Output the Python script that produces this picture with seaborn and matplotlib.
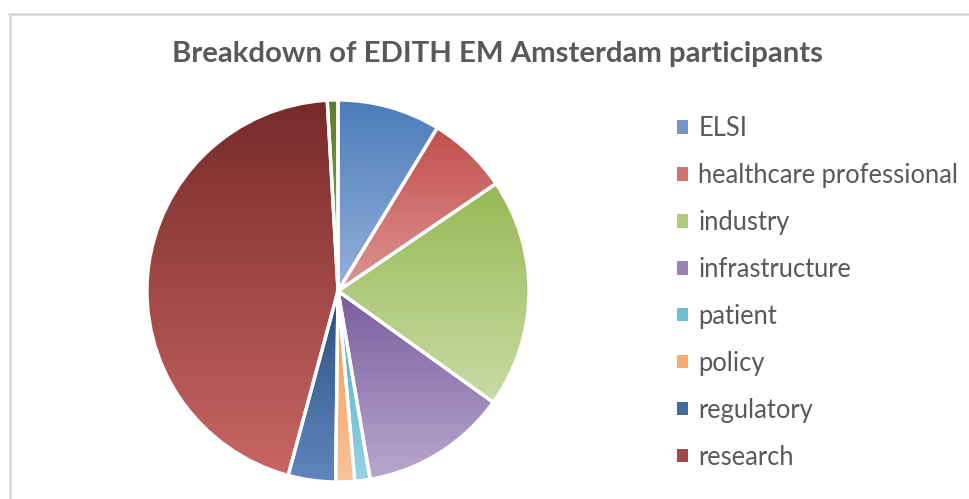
import numpy as np
import matplotlib
matplotlib.use("Agg")
import matplotlib.pyplot as plt
import seaborn as sns
from matplotlib.patches import Patch
from matplotlib.lines import Line2D
from matplotlib.colors import to_rgb, LinearSegmentedColormap

# ---- data ----
categories = ["ELSI", "healthcare professional", "industry", "infrastructure",
              "patient", "policy", "regulatory", "research", "other"]
shares = [8.7, 6.8, 19.4, 12.4, 1.3, 1.6, 4.0, 44.9, 0.9]
legend_labels = categories[:8]
title = "Breakdown of EDITH EM Amsterdam participants"

# ---- style ----
dark_cols = ["#4A7CBA", "#C24E4B", "#97B954", "#7A5C9E", "#44AAC4",
             "#F69444", "#2B4F7C", "#772A28", "#5E7A2A"]
light_cols = ["#97B1DA", "#DE9594", "#C8DBA4", "#B7A8CE", "#98D2E2",
              "#FAC39A", "#5F86BE", "#C86663", "#8FAF5A"]

sns.set_theme(style="white")
plt.rcParams["font.family"] = ["Lato", "DejaVu Sans"]

fig = plt.figure(figsize=(9.69, 4.99), dpi=100)
W, H = 969, 499
cx, cy, r = 338, 291, 191
ax = fig.add_axes([(cx - r) / W, (H - cy - r) / H, 2 * r / W, 2 * r / H])
ax.axis("off")

wedges, _ = ax.pie(shares, startangle=90, counterclock=False, radius=1,
                   colors=["none"] * len(shares),
                   wedgeprops=dict(edgecolor="white", linewidth=2.4))
ax.set_xlim(-1.0, 1.0)
ax.set_ylim(-1.0, 1.0)

for w, d, l in zip(wedges, dark_cols, light_cols):
    verts = w.get_path().vertices
    x0, x1 = verts[:, 0].min(), verts[:, 0].max()
    y0, y1 = verts[:, 1].min(), verts[:, 1].max()
    cmap = LinearSegmentedColormap.from_list("g", [l, d])
    grad = np.linspace(0, 1, 256).reshape(-1, 1)
    im = ax.imshow(grad, extent=[x0, x1, y0, y1], origin="lower", cmap=cmap,
                   aspect="auto", zorder=1, interpolation="bilinear")
    im.set_clip_path(w)
    im.set_clip_on(True)
    w.set_zorder(2)
    w.set_clip_on(False)

# ---- title ----
fig.text(497 / W, 1 - 54 / H, title, ha="center", va="center",
         fontsize=21.2, fontweight="bold", color="#595959")

# ---- legend ----
mid_cols = []
for d, l in zip(dark_cols, light_cols):
    a, b = np.array(to_rgb(d)), np.array(to_rgb(l))
    mid_cols.append(tuple((a + b) / 2))
handles = [Patch(facecolor=c, edgecolor="none") for c in mid_cols[:8]]
leg = fig.legend(handles, legend_labels, loc="upper left",
                 bbox_to_anchor=(677 / W, 1 - 116 / H), frameon=False,
                 fontsize=18.4, handlelength=0.43, handleheight=0.43,
                 handletextpad=0.4, labelspacing=0.86, borderpad=0,
                 borderaxespad=0)
for t in leg.get_texts():
    t.set_color("#595959")

# ---- frame lines ----
gray = "#D9D9D9"
fig.add_artist(Line2D([9 / W, 1], [1 - 14 / H, 1 - 14 / H], color=gray, lw=2,
                      transform=fig.transFigure))
fig.add_artist(Line2D([9.5 / W, 9.5 / W], [0, 1 - 14 / H], color=gray, lw=2,
                      transform=fig.transFigure))

fig.savefig("out.png", dpi=100, facecolor="white")
